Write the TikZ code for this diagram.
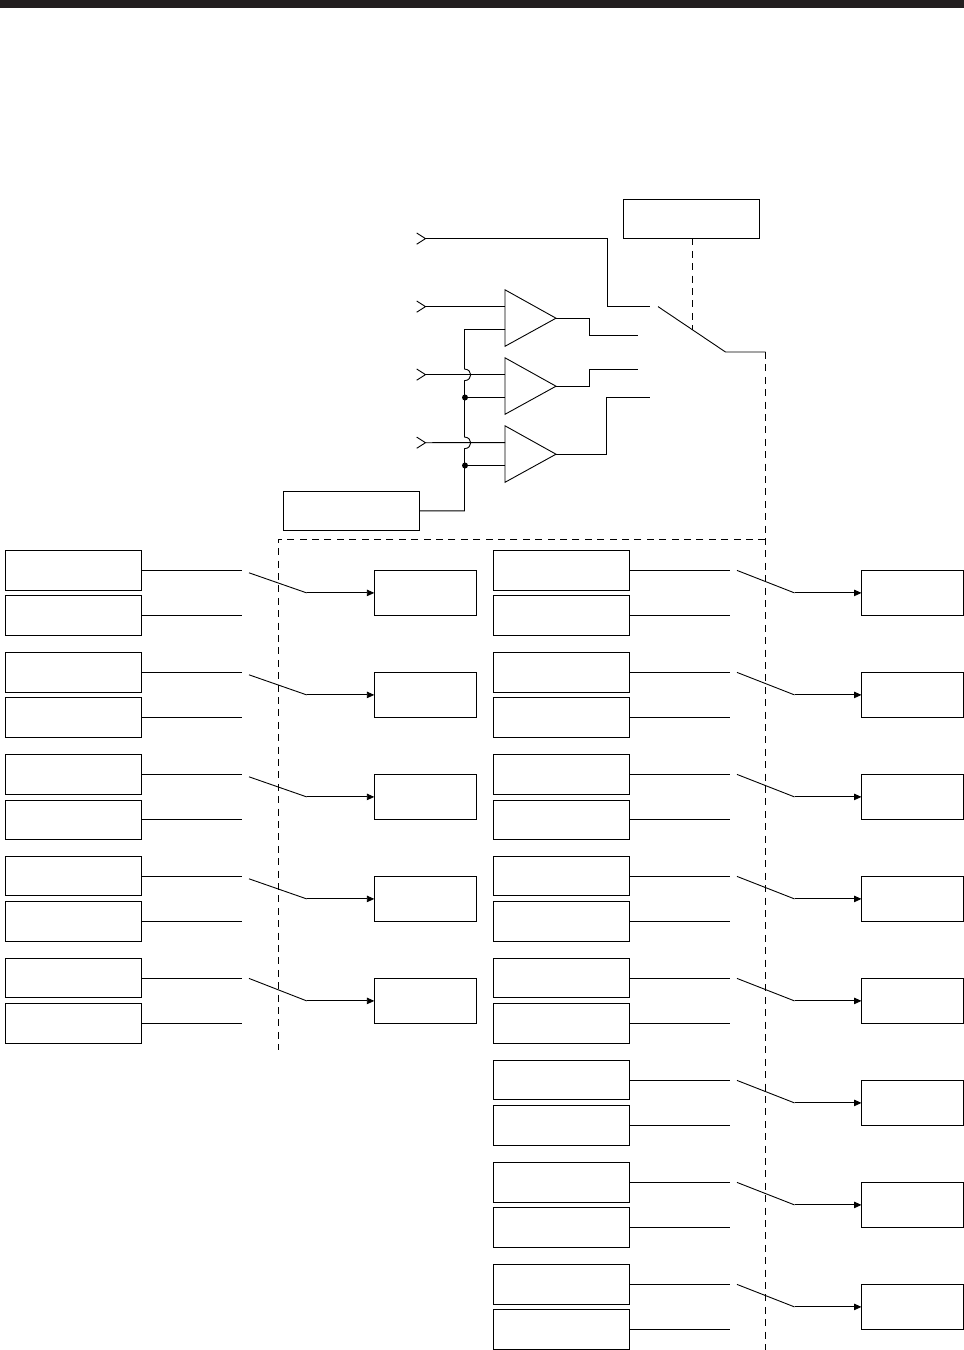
\documentclass[tikz,border=0pt]{standalone}
\usetikzlibrary{arrows.meta}
\definecolor{ink}{HTML}{231F20}
\tikzset{
  wire/.style={draw=black,line width=0.9pt,line join=miter},
  dashwire/.style={wire,dash pattern=on 7pt off 5.4pt},
  bigbox/.style={draw=black,line width=0.9pt,inner sep=0pt,outer sep=0pt,minimum width=136pt,minimum height=40pt,anchor=north west},
  ctlbox/.style={bigbox,minimum height=39pt},
  outbox/.style={draw=black,line width=0.9pt,inner sep=0pt,outer sep=0pt,minimum width=102.4pt,minimum height=45pt,anchor=north west},
  arrowwire/.style={wire,-{Triangle[length=7.5pt,width=6.5pt]}},
  dotmark/.style={circle,fill=black,draw=none,inner sep=0pt,minimum size=6pt},
  ampshape/.style={wire,fill=white}
}
\begin{document}
\begin{tikzpicture}[x=1pt,y=-1pt]
\useasboundingbox (0,0) rectangle (964,1350);
\fill[ink] (0,0) rectangle (964,8);

% control boxes
\node[ctlbox] (top) at (623.5,199.4) {};
\node[ctlbox] (ctl) at (283.5,491.4) {};

% switch points
\coordinate (in1) at (425.5,238.6);
\coordinate (in2) at (425.5,306.6);
\coordinate (in3) at (425.5,374.6);
\coordinate (in4) at (425.5,442.7);
\foreach \c in {in1,in2,in3,in4}{
  \draw[wire] ([shift={(-8.8,-5.6)}]\c) -- (\c) -- ([shift={(-8.8,5.6)}]\c);
}

% amplifiers
\foreach \n/\y in {1/289.8,2/357.8,3/425.8}{
  \coordinate (A\n t) at (505,\y);
  \coordinate (A\n b) at (505,\y+56.5);
  \coordinate (A\n o) at (556,\y+28.4);
  \coordinate (A\n p) at (505,\y+16.8);
  \coordinate (A\n m) at (505,\y+39.7);
  \draw[ampshape] (A\n t) -- (A\n o) -- (A\n b) -- cycle;
}

\draw[wire] (in1) -- (607,238.6) -- (607,306.6) -- (650,306.6);
\draw[wire] (in2) -- (A1p);
\draw[wire] (in3) -- (A2p);
\draw[wire] (in4) -- (A3p);

% shared control rail with hops
\draw[wire] (A1m) -- (464.5,329.5) -- (464.5,369)
  .. controls (472.8,369.5) and (472.8,380.2) .. (464.5,380.7)
  -- (464.5,437)
  .. controls (472.8,437.5) and (472.8,448.2) .. (464.5,448.7)
  -- (464.5,510.9) -- (ctl.east);
\node[dotmark] (d1) at (465,397.5) {};
\node[dotmark] (d2) at (465,465.5) {};
\draw[wire] (d1) -- (A2m);
\draw[wire] (d2) -- (A3m);

% amplifier outputs
\draw[wire] (A1o) -- (589.5,318.2) -- (589.5,335.4) -- (638,335.4);
\draw[wire] (A2o) -- (589.5,386.2) -- (589.5,369.4) -- (638,369.4);
\draw[wire] (A3o) -- (606.5,454.2) -- (606.5,397.4) -- (650,397.4);

% main selector
\coordinate (bladeA) at (658,306.6);
\coordinate (bladeB) at (725.5,352);
\coordinate (bladeC) at (765.5,352);
\coordinate (bladeM) at (692.5,329.8);
\draw[wire] (bladeA) -- (bladeB) -- (bladeC);
\draw[dashwire] (top.south -| bladeM) -- (bladeM);

% linkage
\coordinate (linkR) at (765.4,1350);
\coordinate (linkS) at (765.4,352);
\coordinate (linkT) at (765.4,539.4);
\coordinate (linkL) at (278.2,539.4);
\coordinate (linkE) at (278.2,1050);
\draw[dashwire] (linkS) -- (linkR);
\draw[dashwire] (linkT) -- (linkL) -- (linkE);

% left column: row / first box height / second box offset / second box height / blade start
\foreach \i/\ah/\bo/\bh/\bs in {0/40/45/40/22.4,1/40/45/40/22.4,2/40/46/39/22.4,3/39/45/40/22.4,4/39/45/40/20}{
  \pgfmathsetmacro{\yy}{550.4+102*\i}
  \node[bigbox,minimum height=\ah pt] (La\i) at (5.5,\yy) {};
  \node[bigbox,minimum height=\bh pt] (Lb\i) at (5.5,\yy+\bo) {};
  \node[outbox] (Lo\i) at (374.3,\yy+20) {};
  \coordinate (Lea\i) at (241.5,\yy+20);
  \coordinate (Leb\i) at (241.5,\yy+65);
  \coordinate (Ls\i) at (249,\yy+\bs);
  \coordinate (Lk\i) at (306.7,\yy+42.5);
  \draw[wire] (La\i.east |- Lea\i) -- (Lea\i);
  \draw[wire] (Lb\i.east |- Leb\i) -- (Leb\i);
  \draw[wire] (Ls\i) -- (Lk\i);
  \draw[arrowwire] (Lk\i) -- (Lo\i.west);
}

% right column
\foreach \i/\ah/\bo/\bh in {0/40/45/40,1/40/45/40,2/40/46/39,3/39/45/40,4/39/45/40,5/39/45/40,6/40/45/40,7/40/45/40}{
  \pgfmathsetmacro{\yy}{550.4+102*\i}
  \node[bigbox,minimum height=\ah pt] (Ra\i) at (493.5,\yy) {};
  \node[bigbox,minimum height=\bh pt] (Rb\i) at (493.5,\yy+\bo) {};
  \node[outbox] (Ro\i) at (861.5,\yy+20) {};
  \coordinate (Rea\i) at (729.5,\yy+20);
  \coordinate (Reb\i) at (729.5,\yy+65);
  \coordinate (Rs\i) at (737,\yy+20);
  \coordinate (Rk\i) at (794.5,\yy+42.5);
  \draw[wire] (Ra\i.east |- Rea\i) -- (Rea\i);
  \draw[wire] (Rb\i.east |- Reb\i) -- (Reb\i);
  \draw[wire] (Rs\i) -- (Rk\i);
  \draw[arrowwire] (Rk\i) -- (Ro\i.west);
}
\end{tikzpicture}
\end{document}
